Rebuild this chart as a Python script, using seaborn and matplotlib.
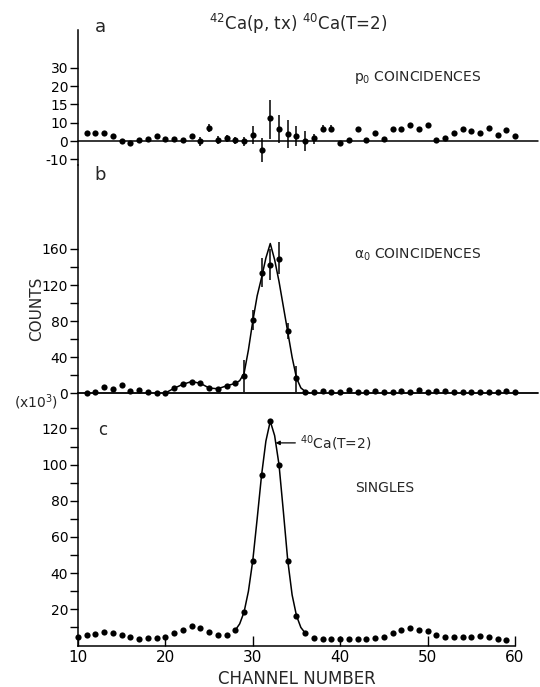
import numpy as np
import pandas as pd
import matplotlib
matplotlib.use("Agg")
import matplotlib.pyplot as plt
import seaborn as sns

# ---------------- data ----------------
# panel a : p0 coincidences (channels 11..60)
ch_ab = list(range(11, 61))
a_counts = [4.2, 4.3, 4.3, 3.0, -0.2, -0.8, 0.6, 1.1, 2.5, 1.3,
            1.3, 0.4, 2.6, -0.2, 7.0, 0.8, 1.7, 0.4, -0.2, 3.4,
            -4.8, 11.4, 6.6, 3.6, 3.0, 0.0, 1.7, 6.8, 6.8, -1.0,
            0.8, 6.4, 0.6, 4.5, 1.3, 6.8, 6.8, 8.7, 6.8, 8.9,
            0.4, 1.5, 4.3, 6.8, 5.3, 4.3, 7.0, 3.2, 5.8, 2.8]
a_err_ch = [23, 24, 25, 26, 27, 28, 29, 30, 31, 32, 33, 34, 35, 36, 37, 38, 39]
a_err_lo = [1.1, -2.5, 4.8, -1.5, -0.5, -1.5, -2.8, -1.5, -11.5, 0.9, -0.9, -3.8, -2.8, -5.5, -1.7, 5.0, 5.0]
a_err_hi = [4.1, 2.2, 9.2, 3.0, 3.5, 2.0, 2.0, 8.5, 1.8, 16.2, 12.2, 10.8, 8.3, 5.7, 3.8, 8.6, 8.6]
a_ticks = [-10, 0, 10, 15, 20, 30]

# panel b : alpha0 coincidences (channels 11..60)
b_counts = [0.7, 1.1, 7.0, 5.2, 8.9, 2.2, 3.3, 1.9, 0.4, 0.4,
            5.6, 10.0, 13.0, 11.1, 5.9, 5.0, 8.3, 11.0, 19.0, 81.5,
            133.0, 142.0, 149.0, 69.0, 16.5, 1.9, 1.9, 2.2, 1.9, 1.9,
            3.3, 1.9, 1.9, 3.0, 1.9, 1.9, 3.0, 1.9, 3.3, 1.9,
            3.0, 3.0, 1.9, 1.9, 1.9, 1.9, 1.9, 1.9, 2.6, 1.9]
b_err_ch = [29, 30, 31, 32, 33, 34, 35]
b_err_lo = [2, 70, 118, 126, 132, 60, 1]
b_err_hi = [37, 92, 150, 160, 168, 78, 30]
b_fit_x = [20, 21, 22, 23, 24, 25, 26, 27, 28, 28.5, 29, 29.5, 30, 30.5, 31, 31.5,
           32, 32.5, 33, 33.5, 34, 34.5, 35, 35.5, 36, 36.5]
b_fit_y = [0.4, 5.6, 10, 13, 11.1, 5.9, 5.0, 8.3, 11, 14, 22, 48, 80, 108, 128, 150,
           166, 148, 124, 96, 68, 40, 17, 6, 2, 0.5]

# panel c : singles (x10^3), channels 10..59
ch_c = list(range(10, 60))
c_counts = [5.0, 5.8, 6.6, 7.7, 6.9, 6.0, 5.0, 3.7, 4.3, 4.2,
            4.8, 6.7, 8.7, 10.9, 9.7, 7.6, 5.7, 5.8, 8.5, 18.5,
            47.0, 94.0, 124.0, 100.0, 47.0, 16.5, 6.9, 4.0, 3.8, 3.8,
            3.8, 3.8, 3.6, 3.8, 4.1, 5.0, 6.8, 8.7, 9.6, 8.7,
            7.9, 5.9, 4.6, 4.6, 4.6, 4.6, 5.3, 4.6, 3.7, 2.9]
c_fit_x = [28, 28.5, 29, 29.5, 30, 30.5, 31, 31.5, 32, 32.5, 33, 33.5, 34, 34.5, 35, 35.5, 36]
c_fit_y = [8.5, 12, 18.5, 30, 47, 70, 94, 113, 124, 116, 100, 74, 47, 28, 16.5, 10, 6.9]

x_ticks = [10, 20, 30, 40, 50, 60]

# ---------------- style ----------------
sns.set_theme(style="white")
plt.rcParams['font.family'] = ['DejaVu Sans']
plt.rcParams['axes.linewidth'] = 1.1
plt.rcParams['xtick.color'] = 'black'
plt.rcParams['ytick.color'] = 'black'

fig = plt.figure(figsize=(5.4, 6.87), dpi=100)
L, W = 0.1444, 0.8093
ax_a = fig.add_axes([L, 0.7598, W, 0.1965])
ax_b = fig.add_axes([L, 0.4275, W, 0.3323])
ax_c = fig.add_axes([L, 0.0603, W, 0.3672])

TV = np.array(a_ticks, float)
TI = np.arange(len(TV), dtype=float)


def fwd(v):
    v = np.asarray(v, float)
    out = np.interp(v, TV, TI)
    out = np.where(v < TV[0], (v - TV[0]) / 10.0, out)
    out = np.where(v > TV[-1], TI[-1] + (v - TV[-1]) / 10.0, out)
    return out


def inv(i):
    i = np.asarray(i, float)
    out = np.interp(i, TI, TV)
    out = np.where(i < TI[0], TV[0] + (i - TI[0]) * 10.0, out)
    out = np.where(i > TI[-1], TV[-1] + (i - TI[-1]) * 10.0, out)
    return out


def style(ax, bottom=False):
    for s in ['top', 'right']:
        ax.spines[s].set_visible(False)
    ax.spines['bottom'].set_visible(bottom)
    ax.spines['left'].set_color('black')
    ax.spines['bottom'].set_color('black')
    ax.set_xlim(10, 60)
    ax.set_xlabel('')
    ax.set_ylabel('')
    ax.tick_params(axis='y', which='both', direction='out', length=6, width=1.0,
                   labelsize=10, pad=1, left=True)
    if bottom:
        ax.tick_params(axis='x', which='both', direction='in', length=7, width=1.0,
                       labelsize=11, pad=3, bottom=True)
    else:
        ax.tick_params(axis='x', which='both', bottom=False, labelbottom=False)
    ax.patch.set_alpha(0)


dot = dict(color='black', s=20, linewidth=0, clip_on=False, zorder=3)

# panel a
df_a = pd.DataFrame({'ch': ch_ab, 'counts': a_counts})
ax_a.set_yscale('function', functions=(fwd, inv))
sns.scatterplot(data=df_a, x='ch', y='counts', ax=ax_a, **dot)
ya = np.array([a_counts[ch_ab.index(c)] for c in a_err_ch])
ax_a.errorbar(a_err_ch, ya, yerr=[ya - np.array(a_err_lo), np.array(a_err_hi) - ya],
              fmt='none', ecolor='black', elinewidth=1.1, capsize=0, clip_on=False)
ax_a.axhline(0, xmin=0, xmax=1.053, color='black', lw=1.1, clip_on=False)
ax_a.set_ylim(-13.1, 50.7)
ax_a.set_yticks(a_ticks)
ax_a.set_yticklabels([str(t) for t in a_ticks])
ax_a.yaxis.set_minor_locator(matplotlib.ticker.NullLocator())
style(ax_a)

# panel b
df_b = pd.DataFrame({'ch': ch_ab, 'counts': b_counts})
sns.lineplot(x=b_fit_x, y=b_fit_y, ax=ax_b, color='black', lw=1.1, sort=False,
             estimator=None, clip_on=False)
sns.scatterplot(data=df_b, x='ch', y='counts', ax=ax_b, **dot)
yb = np.array([b_counts[ch_ab.index(c)] for c in b_err_ch])
ax_b.errorbar(b_err_ch, yb, yerr=[yb - np.array(b_err_lo), np.array(b_err_hi) - yb],
              fmt='none', ecolor='black', elinewidth=1.1, capsize=0, clip_on=False)
ax_b.axhline(0, xmin=0, xmax=1.053, color='black', lw=1.3, clip_on=False)
ax_b.set_ylim(0, 253)
ax_b.set_yticks([0, 40, 80, 120, 160])
ax_b.set_yticks([20, 60, 100, 140], minor=True)
style(ax_b)

# panel c
df_c = pd.DataFrame({'ch': ch_c, 'counts': c_counts})
sns.lineplot(x=c_fit_x, y=c_fit_y, ax=ax_c, color='black', lw=1.1, sort=False,
             estimator=None)
sns.scatterplot(data=df_c, x='ch', y='counts', ax=ax_c, **dot)
ax_c.set_ylim(0, 139.4)
ax_c.set_yticks([20, 40, 60, 80, 100, 120])
ax_c.set_yticks([10, 30, 50, 70, 90, 110], minor=True)
ax_c.set_xticks(x_ticks)
ax_c.set_xticklabels([str(t) for t in x_ticks])
style(ax_c, bottom=True)
ax_c.set_xlabel('CHANNEL NUMBER', fontsize=12, labelpad=4)

ax_c.annotate('$^{40}$Ca(T=2)', xy=(32.6, 112), xytext=(35.4, 112),
              fontsize=10, va='center', ha='left',
              arrowprops=dict(arrowstyle='-|>', color='black', lw=0.9,
                              shrinkA=1, shrinkB=0, mutation_scale=6))

# texts
fig.text(298 / 540, 1 - 24 / 687, '$^{42}$Ca(p, tx) $^{40}$Ca(T=2)', fontsize=12,
         ha='center', va='center')
fig.text(100 / 540, 1 - 27 / 687, 'a', fontsize=13, ha='center', va='center')
fig.text(100 / 540, 1 - 175 / 687, 'b', fontsize=13, ha='center', va='center')
fig.text(103 / 540, 1 - 430 / 687, 'c', fontsize=12, ha='center', va='center')
fig.text(354 / 540, 1 - 77 / 687, 'p$_0$ COINCIDENCES', fontsize=10, ha='left', va='center')
fig.text(354 / 540, 1 - 255 / 687, 'α$_0$ COINCIDENCES', fontsize=10, ha='left', va='center')
fig.text(355 / 540, 1 - 488 / 687, 'SINGLES', fontsize=10, ha='left', va='center')
fig.text(37 / 540, 1 - 309 / 687, 'COUNTS', fontsize=11, rotation=90, ha='center', va='center')
fig.text(36 / 540, 1 - 402 / 687, '(x10$^3$)', fontsize=10, ha='center', va='center')

fig.savefig('out.png', dpi=100, facecolor='white')
